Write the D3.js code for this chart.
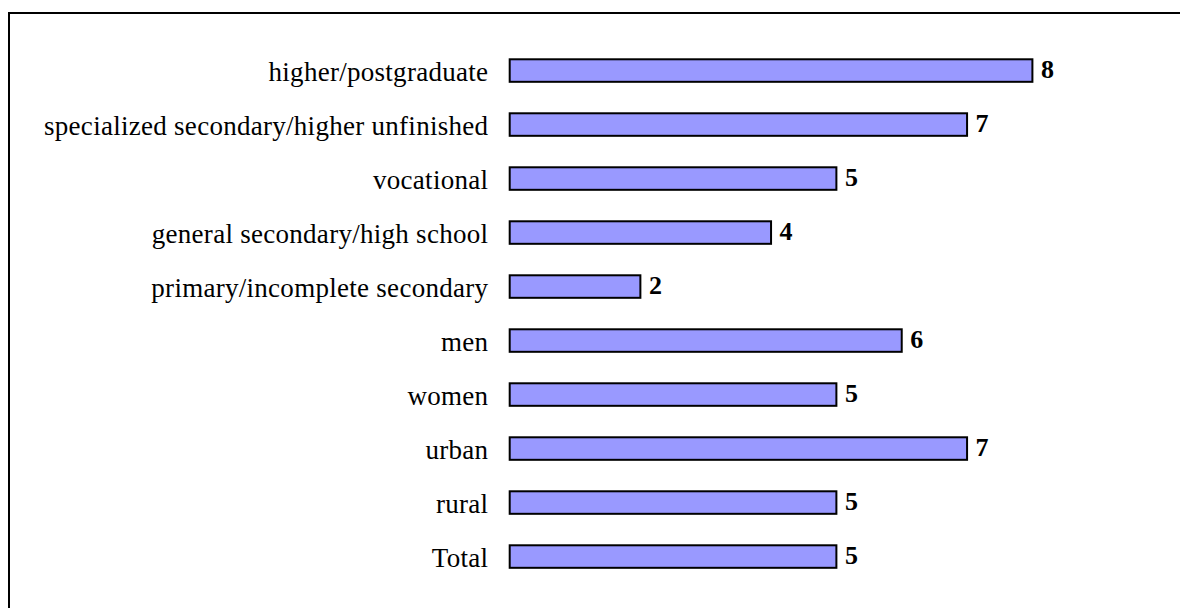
<!DOCTYPE html>
<html>
<head>
<meta charset="utf-8">
<script src="https://cdn.jsdelivr.net/npm/d3@7"></script>
<style>
  html, body { margin: 0; padding: 0; background: #fff; }
  svg { display: block; }
</style>
</head>
<body>
<svg id="chart" width="1180" height="608"></svg>
<script>
const categories = [
  "higher/postgraduate",
  "specialized secondary/higher unfinished",
  "vocational",
  "general secondary/high school",
  "primary/incomplete secondary",
  "men",
  "women",
  "urban",
  "rural",
  "Total"
];
const values = [8, 7, 5, 4, 2, 6, 5, 7, 5, 5];

const svg = d3.select("#chart");

// frame (right and bottom edges lie outside the picture)
svg.append("rect")
  .attr("x", 9).attr("y", 13)
  .attr("width", 1200).attr("height", 620)
  .attr("fill", "none").attr("stroke", "#000").attr("stroke-width", 2);

const x = d3.scaleLinear().domain([0, 8]).range([509.7, 1032.4]);
const y = d3.scaleBand().domain(categories)
  .range([43.55, 583.55]).paddingInner(0.583).paddingOuter(0.2915);

const g = svg.append("g");

g.selectAll("rect.bar").data(categories).join("rect")
  .attr("class", "bar")
  .attr("x", x(0))
  .attr("y", d => y(d))
  .attr("width", (d, i) => x(values[i]) - x(0))
  .attr("height", y.bandwidth())
  .attr("fill", "#9999FF")
  .attr("stroke", "#000")
  .attr("stroke-width", 2);

// category labels via axis
const axis = d3.axisLeft(y).tickSize(0).tickPadding(0);
const ag = svg.append("g").attr("transform", "translate(488.3,0)").call(axis);
ag.select(".domain").remove();
ag.selectAll("text")
  .attr("font-family", "'Liberation Serif', 'Times New Roman', serif")
  .attr("font-size", 27)
  .attr("letter-spacing", "0.28px")
  .attr("fill", "#000")
  .attr("dy", null)
  .attr("dominant-baseline", "central")
  .attr("y", 1);

// value labels
g.selectAll("text.val").data(categories).join("text")
  .attr("class", "val")
  .attr("x", (d, i) => x(values[i]) + 8.5)
  .attr("y", d => y(d) + y.bandwidth() / 2 + 7)
  .attr("font-family", "'Liberation Serif', 'Times New Roman', serif")
  .attr("font-size", 26)
  .attr("font-weight", "bold")
  .attr("fill", "#000")
  .text((d, i) => values[i]);
</script>
</body>
</html>
